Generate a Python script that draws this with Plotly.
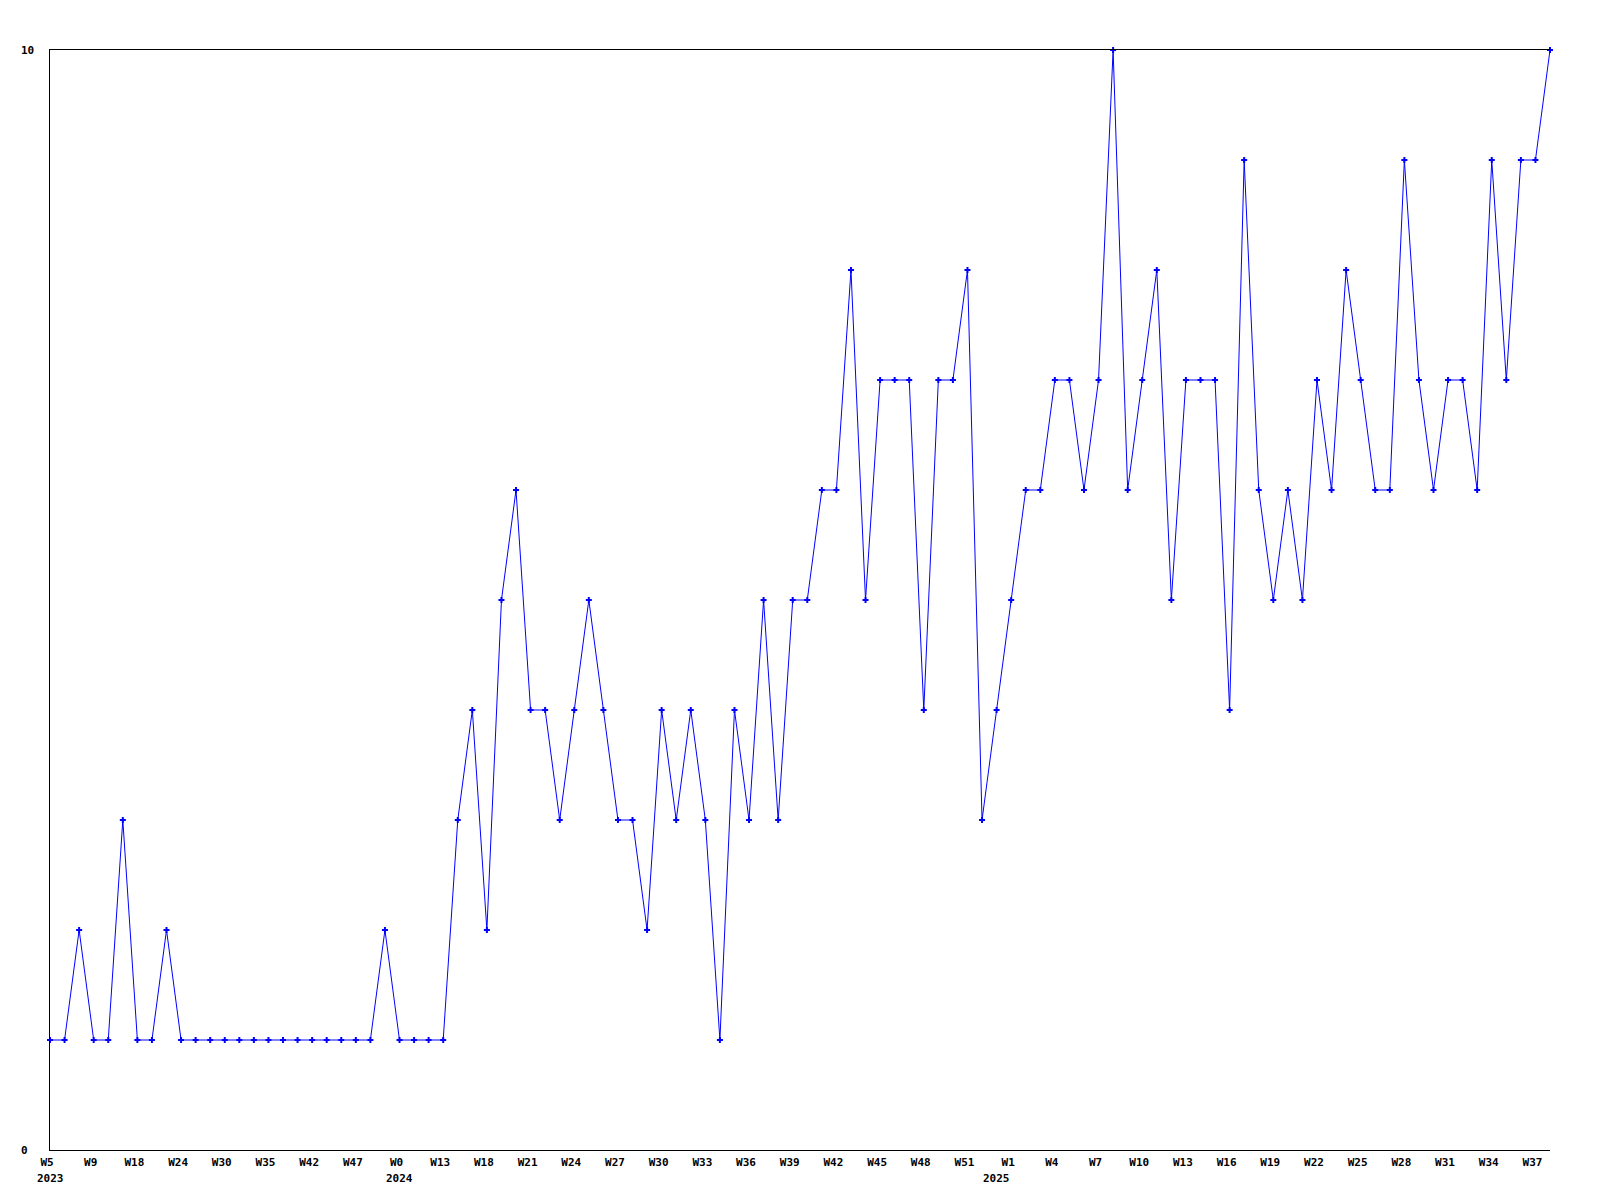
import plotly.graph_objects as go

# ---- data ----
values = [1, 1, 2, 1, 1, 3, 1, 1, 2,
          1, 1, 1, 1, 1, 1, 1, 1, 1, 1, 1, 1, 1, 1,
          2, 1, 1, 1, 1,
          3, 4, 2, 5, 6, 4, 4, 3, 4, 5, 4, 3, 3, 2, 4, 3, 4, 3, 1, 4, 3, 5, 3, 5, 5, 6, 6,
          8, 5, 7, 7, 7, 4, 7, 7, 8, 3, 4, 5, 6, 6, 7, 7, 6, 7, 10, 6, 7, 8, 5, 7, 7, 7, 4,
          9, 6, 5, 6, 5, 7, 6, 8, 7, 6, 6, 9, 7, 6, 7, 7, 6, 9, 7, 9, 9, 10]

tick_labels = ["W5", "W9", "W18", "W24", "W30", "W35", "W42", "W47",
               "W0", "W13", "W18", "W21", "W24", "W27", "W30", "W33", "W36", "W39",
               "W42", "W45", "W48", "W51", "W1", "W4", "W7", "W10", "W13", "W16",
               "W19", "W22", "W25", "W28", "W31", "W34", "W37"]
tick_every = 3

year_labels = ["2023", "2024", "2025"]
year_first_index = [0, 24, 65]

y_tick_values = [0, 10]

x_idx = list(range(len(values)))
tick_vals = x_idx[::tick_every][:len(tick_labels)]

FONT = dict(family="DejaVu Sans Mono", size=11, color="black", weight="bold")

fig = go.Figure()
fig.add_trace(go.Scatter(
    x=x_idx, y=values, mode="lines+markers",
    line=dict(color="#0000FF", width=1),
    marker=dict(symbol="cross", size=5, color="#0000FF", line=dict(width=0)),
    cliponaxis=False, hoverinfo="skip",
))

annotations = []
for lab, idx in zip(year_labels, year_first_index):
    annotations.append(dict(x=idx, y=0, xref="x", yref="paper", text=lab,
                            showarrow=False, xanchor="center", yanchor="top",
                            yshift=-20, font=FONT))
for v in y_tick_values:
    annotations.append(dict(x=0, y=v, xref="paper", yref="y", text=str(v),
                            showarrow=False, xanchor="left", yanchor="middle",
                            xshift=-31, font=FONT))

fig.update_layout(
    width=1584, height=1184,
    margin=dict(l=42, r=42, t=42, b=42),
    paper_bgcolor="white", plot_bgcolor="white",
    showlegend=False,
    font=FONT,
    annotations=annotations,
    xaxis=dict(range=[0, len(values) - 1], tickmode="array", tickvals=tick_vals,
               ticktext=tick_labels, ticks="", showgrid=False, zeroline=False,
               showline=True, linecolor="black", linewidth=1, mirror=True,
               tickfont=FONT, ticklabelstandoff=2, ticklabelshift=-3,
               fixedrange=True),
    yaxis=dict(range=[0, 10], showticklabels=False, ticks="", showgrid=False,
               zeroline=False, showline=True, linecolor="black", linewidth=1,
               mirror=False, fixedrange=True),
)

fig.write_html("out.html")
